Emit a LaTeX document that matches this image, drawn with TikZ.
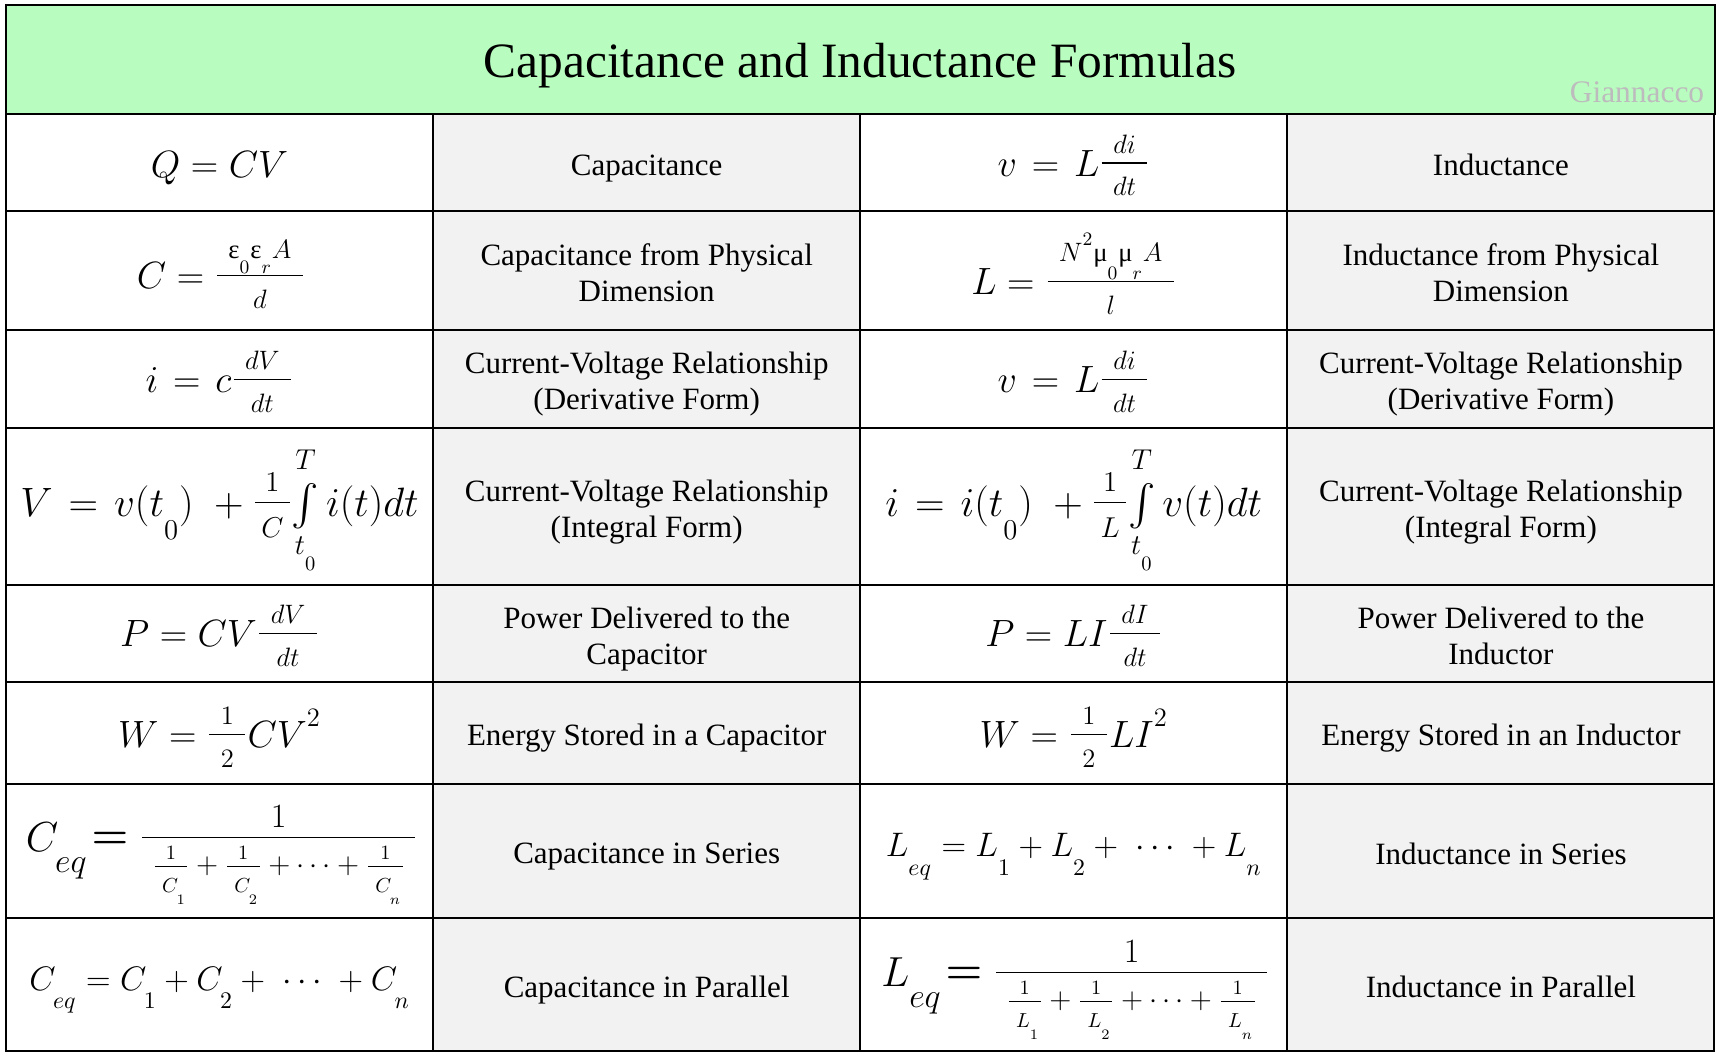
\documentclass[tikz,border=0pt]{standalone}
\usepackage{fix-cm}
\usepackage{amsmath}
\usepackage{amssymb}
\usepackage{fontspec}
\setmainfont{Liberation Serif}
\usetikzlibrary{positioning}
\definecolor{headgreen}{HTML}{B8FDBF}
\definecolor{cellgray}{HTML}{F2F2F2}
\definecolor{markgray}{HTML}{BDBBBD}
\tikzset{
  gridcell/.style={draw=black, line width=1pt, minimum width=213.56pt, inner sep=0pt, outer sep=0pt, align=center},
  mathcell/.style={gridcell, fill=white},
  namecell/.style={gridcell, fill=cellgray, font=\fontsize{15.5}{18}\selectfont,
    execute at begin node=\rule{0pt}{16.1pt}, execute at end node=\rule[-2.8pt]{0pt}{2.8pt}},
  headcell/.style={draw=black, line width=1pt, fill=headgreen, minimum width=854.25pt, minimum height=54.5pt, inner sep=0pt, outer sep=0pt,
    text height=19pt, text depth=0.5pt, font=\fontsize{24.7}{29}\selectfont},
  rowh/.style={minimum height=#1*0.5pt},
  eqn/.style={inner sep=0pt, outer sep=0pt, anchor=base, font=\fontsize{#1}{#1}\selectfont},
  eqn/.default=19,
}
% subscripts sit low in the reference
\newcommand{\dn}[1]{_{\raisebox{-.4em}{$\scriptstyle #1$}}}
\newcommand{\dnn}[1]{_{\raisebox{-.3em}{$\scriptscriptstyle #1$}}}
\newcommand{\dnb}[1]{_{\raisebox{-.35em}{\fontsize{17}{17}\selectfont$#1$}}}
\newcommand{\upp}[1]{^{\raisebox{.2em}{$\scriptstyle #1$}}}
\newcommand{\eqg}{\mskip2mu=\mskip2mu}
\newcommand{\sz}[2]{\mbox{\fontsize{#1}{#1}\selectfont$#2$}}
\newcommand{\ofrac}[2]{\raisebox{.1em}{$\frac{\kern.3em #1\rule[-.2em]{0pt}{0pt}\kern.3em}{\kern.3em\rule{0pt}{.8em}#2\kern.3em}$}}
\newcommand{\ifrac}[2]{\raisebox{.1em}{$\frac{\kern.15em #1\rule[-.2em]{0pt}{0pt}\kern.15em}{\kern.15em\rule{0pt}{.8em}#2\kern.15em}$}}
\newcommand{\tfr}[1]{\frac{1\rule[-2.5pt]{0pt}{0pt}}{\kern.25em\rule{0pt}{12pt}#1\kern.05em}}
\newcommand{\bigeq}[1]{\raisebox{1.75pt}{$\kern2pt\boldsymbol{=}\displaystyle\frac{\raisebox{-3.8pt}{\sz{17}{1}}}{\kern5pt\raisebox{1.5pt}{\sz{14.5}{\tfr{#1\dnn{1}}+\tfr{#1\dnn{2}}+\cdots+\tfr{#1\dnn{n}}}}\kern5pt}$}}
\newcommand{\twol}[2]{\raisebox{0pt}[0pt][0pt]{\begin{tabular}{@{}c@{}}#1\\#2\end{tabular}}}
\begin{document}
\begin{tikzpicture}[x=0.5pt, y=-0.5pt]
  \useasboundingbox (0,0) rectangle (1721,1058);
  \node[headcell] (title) at (860.25,59.5) {Capacitance and Inductance Formulas};
  \node[text=markgray, font=\fontsize{15.7}{18}\selectfont] (mark) at (1637,92) {Giannacco};

  \node[mathcell, rowh=97, below=0pt of title.south west, anchor=north west] (capa) {};
  \node[namecell, rowh=97, right=0pt of capa] (capb) {Capacitance};
  \node[mathcell, rowh=97, right=0pt of capb] (inda) {};
  \node[namecell, rowh=97, right=0pt of inda] (indb) {Inductance};
  \node[eqn] (capf) at ([yshift=-7.75pt]capa.center) {$Q=CV$};
  \node[eqn] (indf) at ([yshift=-7pt]inda.center) {$v\eqg L\ofrac{di}{dt}$};

  \node[mathcell, rowh=119, below=0pt of capa] (dimca) {};
  \node[namecell, rowh=119, right=0pt of dimca] (dimcb) {\twol{Capacitance from Physical}{Dimension}};
  \node[mathcell, rowh=119, right=0pt of dimcb] (dimla) {};
  \node[namecell, rowh=119, right=0pt of dimla] (dimlb) {\twol{Inductance from Physical}{Dimension}};
  \node[eqn] (dimcf) at ([xshift=0.75pt,yshift=-9.25pt]dimca.center) {$C=\ofrac{\text{ε}\dnn{0}\text{ε}\dnn{r}A}{d}$};
  \node[eqn] (dimlf) at ([yshift=-12.25pt]dimla.center) {$L=\ofrac{N^{\raisebox{.15em}{$\scriptscriptstyle 2$}}\text{μ}\dnn{0}\text{μ}\dnn{r}A}{l}$};

  \node[mathcell, rowh=98, below=0pt of dimca] (dera) {};
  \node[namecell, rowh=98, right=0pt of dera] (derb) {\twol{Current-Voltage Relationship}{(Derivative Form)}};
  \node[mathcell, rowh=98, right=0pt of derb] (derc) {};
  \node[namecell, rowh=98, right=0pt of derc] (derd) {\twol{Current-Voltage Relationship}{(Derivative Form)}};
  \node[eqn] (deraf) at ([yshift=-6.85pt]dera.center) {$i\eqg c\ofrac{dV}{dt}$};
  \node[eqn] (dercf) at ([yshift=-6.85pt]derc.center) {$v\eqg L\ofrac{di}{dt}$};

  \node[mathcell, rowh=157, below=0pt of dera] (inta) {};
  \node[namecell, rowh=157, right=0pt of inta] (intb) {\twol{Current-Voltage Relationship}{(Integral Form)}};
  \node[mathcell, rowh=157, right=0pt of intb] (intc) {};
  \node[namecell, rowh=157, right=0pt of intc] (intd) {\twol{Current-Voltage Relationship}{(Integral Form)}};
  \node[eqn=20.5] (intaf) at ([yshift=-5.25pt]inta.center) {$V\eqg v(t\dn{0})\;+\ifrac{1}{C}\!\mathop{\textstyle\int}\limits_{t\dnn{0}}^{\rule[-5pt]{0pt}{5pt}T}i(t)dt$};
  \node[eqn=20.5] (intcf) at ([yshift=-5.25pt]intc.center) {$i\eqg i(t\dn{0})\;+\ifrac{1}{L}\!\mathop{\textstyle\int}\limits_{t\dnn{0}}^{\rule[-5pt]{0pt}{5pt}T}v(t)dt$};

  \node[mathcell, rowh=97, below=0pt of inta] (powa) {};
  \node[namecell, rowh=97, right=0pt of powa] (powb) {\twol{Power Delivered to the}{Capacitor}};
  \node[mathcell, rowh=97, right=0pt of powb] (powc) {};
  \node[namecell, rowh=97, right=0pt of powc] (powd) {\twol{Power Delivered to the}{Inductor}};
  \node[eqn] (powaf) at ([yshift=-6.6pt]powa.center) {$P=CV\ofrac{dV}{dt}$};
  \node[eqn] (powcf) at ([yshift=-6.6pt]powc.center) {$P=LI\ofrac{dI}{dt}$};

  \node[mathcell, rowh=102, below=0pt of powa] (enga) {};
  \node[namecell, rowh=102, right=0pt of enga] (engb) {Energy Stored in a Capacitor};
  \node[mathcell, rowh=102, right=0pt of engb] (engc) {};
  \node[namecell, rowh=102, right=0pt of engc] (engd) {Energy Stored in an Inductor};
  \node[eqn] (engaf) at ([yshift=-7.5pt]enga.center) {$W=\ofrac{1}{2}CV\upp{2}$};
  \node[eqn] (engcf) at ([yshift=-7.5pt]engc.center) {$W=\ofrac{1}{2}LI\upp{2}$};

  \node[mathcell, rowh=134, below=0pt of enga] (sera) {};
  \node[namecell, rowh=134, right=0pt of sera] (serb) {Capacitance in Series};
  \node[mathcell, rowh=134, right=0pt of serb] (serc) {};
  \node[namecell, rowh=134, right=0pt of serc] (serd) {Inductance in Series};
  \node[eqn=21] (seraf) at ([xshift=1pt,yshift=-0.3pt]sera.center) {$C\dnb{eq}\bigeq{C}$};
  \node[eqn=17] (sercf) at ([yshift=-3pt]serc.center) {$L\dn{eq}=L\dn{1}+L\dn{2}+\;\cdots\;+L\dn{n}$};

  \node[mathcell, rowh=133, below=0pt of sera] (para) {};
  \node[namecell, rowh=133, right=0pt of para] (parb) {Capacitance in Parallel};
  \node[mathcell, rowh=133, right=0pt of parb] (parc) {};
  \node[namecell, rowh=133, right=0pt of parc] (pard) {Inductance in Parallel};
  \node[eqn=17] (paraf) at ([yshift=-2.8pt]para.center) {$C\dn{eq}=C\dn{1}+C\dn{2}+\;\cdots\;+C\dn{n}$};
  \node[eqn=21] (parcf) at ([xshift=0.75pt,yshift=-1pt]parc.center) {$L\dnb{eq}\bigeq{L}$};
\end{tikzpicture}
\end{document}
